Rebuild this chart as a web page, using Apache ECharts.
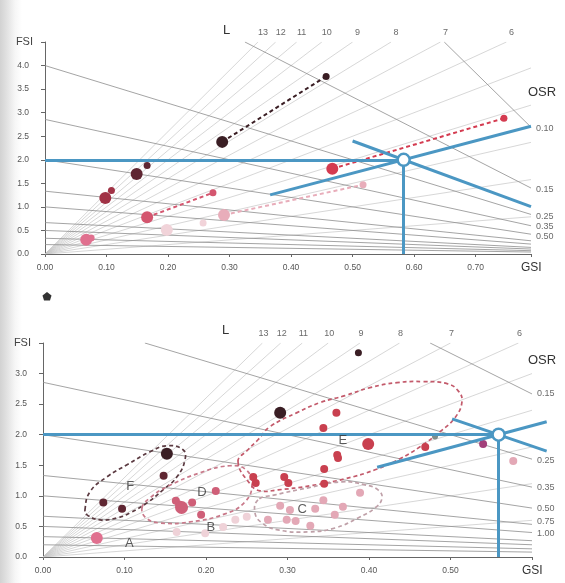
<!DOCTYPE html>
<html><head><meta charset="utf-8">
<script src="https://cdn.jsdelivr.net/npm/echarts@6/dist/echarts.min.js"></script>
<style>
html,body{margin:0;padding:0;width:565px;height:583px;overflow:hidden;
background:linear-gradient(to right,#d2d2d2 0px,#e2e2e2 7px,#f6f6f6 15px,#ffffff 22px);}
#c{width:565px;height:583px;}
</style></head><body><div id="c"></div>
<script>
// ---------- axis extents / ticks ----------
const topX = {max:0.79, interval:0.1};
const topY = {max:4.5, interval:0.5, lastLabel:4.0};
const botX = {max:0.6, interval:0.1};
const botY = {max:3.5, interval:0.5, lastLabel:3.0};

// ---------- isolines ----------
const layerValues = [1,2,3,4,5,6,7,8,9,10,11,12,13];
const layerLabels = [13,12,11,10,9,8,7,6];
const topOsrValues = [0.078,0.15,0.25,0.35,0.50,0.75,1.0,1.5,2,3,5];
const topOsrLabels = ['0.10','0.15','0.25','0.35','0.50'];
const botOsrValues = [0.15,0.25,0.35,0.50,0.75,1.0,1.5,2,3,5];
const botOsrLabels = ['0.15','0.25','0.35','0.50','0.75','1.00'];

// ---------- blue reference (target) ----------
const topTarget = [0.583, 2.0];
const topTargetRay = [0.366, 0.79];
const topTargetOsr = [0.50, 0.79];
const botTarget = [0.559, 2.0];
const botTargetRay = [0.41, 0.618];
const botTargetOsr = [0.502, 0.618];

// ---------- top chart: [start(large), end(small)] ----------
const topDarkest = [[0.288,2.38],[0.457,3.77]];
const topMaroon  = [[0.149,1.70],[0.166,1.88]];
const topMedium  = [[0.098,1.19],[0.108,1.35]];
const topPinkRed = [[0.166,0.78],[0.273,1.30]];
const topRed     = [[0.467,1.81],[0.746,2.88]];
const topPink    = [[0.067,0.30],[0.075,0.34]];
const topLight   = [[0.291,0.83],[0.517,1.47]];
const topPale    = [[0.198,0.51],[0.257,0.66]];

// ---------- bottom chart ----------
const botDarkestLarge = [[0.152,1.69],[0.291,2.36]];
const botDarkestSmall = [[0.387,3.34]];
const botMaroon = [[0.148,1.33],[0.074,0.89],[0.097,0.79]];
const botA = [[0.066,0.31]];
const botDLarge = [[0.170,0.81]];
const botD = [[0.212,1.08],[0.163,0.92],[0.167,0.86],[0.183,0.89],[0.194,0.69]];
const botELarge = [[0.399,1.85]];
const botE = [[0.360,2.36],[0.344,2.11],[0.361,1.67],[0.362,1.62],[0.345,1.44],[0.345,1.20],
              [0.258,1.31],[0.261,1.21],[0.296,1.31],[0.301,1.21],[0.469,1.80]];
const botPurple = [[0.540,1.85]];
const botGrey = [[0.481,1.97]];
const botC = [[0.389,1.05],[0.344,0.93],[0.334,0.79],[0.368,0.82],[0.358,0.69],[0.291,0.84],
              [0.303,0.77],[0.276,0.61],[0.299,0.61],[0.310,0.59],[0.328,0.51],[0.577,1.57]];
const botB = [[0.221,0.49],[0.164,0.41],[0.199,0.39],[0.236,0.61],[0.250,0.66]];

// group outlines (data coords)
const loopF = [[0.0515,0.77],[0.0577,1.066],[0.0785,1.311],[0.1031,1.508],[0.1313,1.721],[0.1521,1.820],
  [0.1718,1.754],[0.1742,1.590],[0.1644,1.311],[0.1472,1.098],[0.1276,0.885],[0.1067,0.721],
  [0.0908,0.639],[0.0699,0.607],[0.0540,0.689]];
const loopD = [[0.1215,0.803],[0.1313,0.967],[0.1521,1.148],[0.1926,1.377],[0.2294,1.492],[0.2491,1.426],
  [0.2564,1.180],[0.2479,0.902],[0.2233,0.705],[0.1804,0.574],[0.1436,0.557],[0.1264,0.639]];
const loopE = [[0.2393,1.557],[0.2515,1.754],[0.2638,1.918],[0.2785,2.131],[0.3117,2.361],[0.3399,2.525],
  [0.3706,2.639],[0.4012,2.770],[0.4344,2.852],[0.4663,2.869],[0.4957,2.836],[0.5092,2.721],
  [0.5141,2.541],[0.5055,2.279],[0.4871,2.049],[0.4626,1.803],[0.4380,1.607],[0.4074,1.426],
  [0.3706,1.279],[0.3276,1.164],[0.2883,1.098],[0.2663,1.082],[0.2540,1.197]];
const loopC = [[0.2638,0.934],[0.2601,0.721],[0.2687,0.557],[0.2883,0.443],[0.3252,0.410],[0.3583,0.475],
  [0.3865,0.639],[0.4074,0.803],[0.4160,0.967],[0.4110,1.098],[0.3951,1.180],[0.3669,1.230],
  [0.3252,1.131],[0.2847,1.016]];

const groupLetters = ['A','B','C','D','E','F'];
const groupLetterAt = [[0.106,0.23],[0.206,0.48],[0.318,0.77],[0.195,1.05],[0.368,1.90],[0.107,1.15]];

// ---------- styles ----------
const BLUE = '#4b97c3';
const FONT = "'Liberation Sans Narrow','Liberation Sans',sans-serif";
const C = {darkest:'#3a1e24', maroon:'#5f2632', medium:'#a13346', pinkRed:'#d4566f', red:'#d43b50',
  pink:'#e0708f', light:'#e8adba', pale:'#f1d3d9', dRed:'#cf5f78', eRed:'#c9404f', purple:'#a2407a',
  grey:'#7f8d8a', cPink:'#e3a8b6', bPale:'#efd2d8'};

// ---------- helpers ----------
function rayLine(L, ax){ const x = Math.min(ax.x.max, ax.y.max / L); return [[0,0],[x, L*x]]; }
function osrLine(o, ax){
  let x0 = 0, y0 = 1/o;
  if (y0 > ax.y.max){ y0 = ax.y.max; x0 = 1 - ax.y.max*o; }
  return [[x0,y0],[ax.x.max,(1-ax.x.max)/o]];
}
const AX = [{x:topX,y:topY},{x:botX,y:botY}];

function isoSeries(gi){
  const ax = AX[gi];
  const osr = gi===0 ? topOsrValues : botOsrValues;
  return [
    {type:'lines', coordinateSystem:'cartesian2d', xAxisIndex:gi, yAxisIndex:gi, silent:true, z:1,
     lineStyle:{color:'#c6c6c6', width:0.7, opacity:1},
     data: layerValues.map(L => ({coords: rayLine(L, ax)}))},
    {type:'lines', coordinateSystem:'cartesian2d', xAxisIndex:gi, yAxisIndex:gi, silent:true, z:1,
     lineStyle:{color:'#8d8d8d', width:0.8, opacity:1},
     data: osr.map(o => ({coords: osrLine(o, ax)}))}
  ];
}
function textSeries(gi){
  const ax = AX[gi];
  const osr = gi===0 ? topOsrValues : botOsrValues;
  const lab = gi===0 ? topOsrLabels : botOsrLabels;
  const nudge = gi===0 ? [1,1,2,1,2] : [0,1,0,0,-3,1];
  const items = [];
  layerLabels.forEach(L => items.push({value:[ax.y.max/L, ax.y.max],
    label:{position:'top', distance:5, offset:[gi===0?5:1, 0], formatter:String(L)}}));
  lab.forEach((t,i) => { const o = osr[i];
    items.push({value:[ax.x.max,(1-ax.x.max)/o],
      label:{position:'right', distance:5, offset:[0,nudge[i]], formatter:t}}); });
  return {type:'scatter', xAxisIndex:gi, yAxisIndex:gi, symbolSize:0, silent:true, z:7,
    label:{show:true, color:'#444', fontSize:9, fontFamily:FONT}, data:items};
}
function loop(pts, color){
  return {type:'custom', xAxisIndex:1, yAxisIndex:1, silent:true, z:3, data:[pts[0]],
    renderItem:function(params, api){
      return {type:'polygon', shape:{points: pts.map(p => api.coord(p)), smooth:0.45},
        style:{fill:'none', stroke:color, lineWidth:1.7, lineDash:[4,3]}};
    }};
}
function pair(data, color, dashed){
  return {type:'line', xAxisIndex:0, yAxisIndex:0, data:data, z:4, silent:true,
    symbol:'circle', symbolSize:(v,p)=> p.dataIndex===0 ? 12 : 7,
    itemStyle:{color:color, opacity:1},
    lineStyle: dashed ? {color:color, width:2, type:[4,3]} : {width:0, opacity:0}};
}
function dots(data, color, size){
  return {type:'scatter', xAxisIndex:1, yAxisIndex:1, data:data, z:4, silent:true,
    symbolSize:size, itemStyle:{color:color, opacity:1}};
}
function target(gi, t, rayR, osrR){
  const L = t[1]/t[0], o = (1-t[0])/t[1];
  return [
    {type:'lines', coordinateSystem:'cartesian2d', xAxisIndex:gi, yAxisIndex:gi, silent:true, z:5, clip:false,
     lineStyle:{color:BLUE, width:3, opacity:1},
     data:[{coords:[[0,t[1]],[t[0],t[1]]]}, {coords:[[t[0],0],[t[0],t[1]]]},
           {coords:[[rayR[0],L*rayR[0]],[rayR[1],L*rayR[1]]]},
           {coords:[[osrR[0],(1-osrR[0])/o],[osrR[1],(1-osrR[1])/o]]}]},
    {type:'scatter', xAxisIndex:gi, yAxisIndex:gi, silent:true, z:6, data:[t], symbolSize:12,
     itemStyle:{color:'#ffffff', borderColor:BLUE, borderWidth:2.5, opacity:1}}
  ];
}

function xAxis(gi, ax){
  return {type:'value', gridIndex:gi, min:0, max:ax.max, interval:ax.interval,
    name:'GSI', nameLocation:'end', nameGap:-10,
    nameTextStyle:{color:'#333', fontSize:12, fontFamily:"'Liberation Sans',sans-serif", align:'left', verticalAlign:'top', padding:[8,0,0,0]},
    axisLine:{lineStyle:{color:'#666', width:1}}, axisTick:{length:3, lineStyle:{color:'#666'}},
    splitLine:{show:false},
    axisLabel:{margin:9, color:'#555', fontSize:8.5, fontFamily:FONT,
      formatter:v => v > ax.max - 0.05 ? '' : v.toFixed(2)}};
}
function yAxis(gi, ax){
  return {type:'value', gridIndex:gi, min:0, max:ax.max, interval:ax.interval,
    name:'FSI', nameLocation:'end', nameGap:0,
    nameTextStyle:{color:'#444', fontSize:11, fontFamily:"'Liberation Sans',sans-serif", align:'right', verticalAlign:'middle', padding:[0,12,0,0]},
    axisLine:{lineStyle:{color:'#666', width:1}}, axisTick:{length:4, lineStyle:{color:'#666'}},
    splitLine:{show:false},
    axisLabel:{margin:16, color:'#555', fontSize:8.5, fontFamily:FONT,
      formatter:v => v > ax.lastLabel + 0.01 ? '' : v.toFixed(1)}};
}

const letterSeries = {type:'scatter', xAxisIndex:1, yAxisIndex:1, symbolSize:0, silent:true, z:6,
  label:{show:true, position:'inside', color:'#333', fontSize:13, fontFamily:"'Liberation Sans',sans-serif",
    formatter:p => groupLetters[p.dataIndex]},
  data: groupLetterAt};

const chart = echarts.init(document.getElementById('c'), null, {renderer:'canvas'});
chart.setOption({
  animation:false,
  grid:[{left:45, top:42, width:486, height:212},
        {left:43, top:343, width:489, height:214}],
  xAxis:[xAxis(0, topX), xAxis(1, botX)],
  yAxis:[yAxis(0, topY), yAxis(1, botY)],
  graphic:[
    {type:'text', left:223, top:24, style:{text:'L', fontSize:13, fill:'#333', fontFamily:"'Liberation Sans',sans-serif"}},
    {type:'text', left:222, top:324, style:{text:'L', fontSize:13, fill:'#333', fontFamily:"'Liberation Sans',sans-serif"}},
    {type:'text', left:528, top:86, style:{text:'OSR', fontSize:13, fill:'#333', fontFamily:"'Liberation Sans',sans-serif"}},
    {type:'text', left:528, top:354, style:{text:'OSR', fontSize:13, fill:'#333', fontFamily:"'Liberation Sans',sans-serif"}},
    {type:'polygon', shape:{points:[[47,292],[51.5,295.5],[50,300.5],[44,300.5],[42.5,295.5]]}, style:{fill:'#333'}}
  ],
  series:[
    ...isoSeries(0), ...isoSeries(1),
    textSeries(0), textSeries(1),
    loop(loopF, '#5b3a41'), loop(loopD, '#c9798a'), loop(loopE, '#c35a6b'), loop(loopC, '#bfa0a8'),
    pair(topPale, C.pale, false), pair(topLight, C.light, true), pair(topPink, C.pink, false),
    pair(topPinkRed, C.pinkRed, true), pair(topRed, C.red, true), pair(topMedium, C.medium, false),
    pair(topMaroon, C.maroon, false), pair(topDarkest, C.darkest, true),
    dots(botB, C.bPale, 8), dots(botC, C.cPink, 8), dots(botA, C.pink, 12),
    dots(botD, C.dRed, 8), dots(botDLarge, C.dRed, 13),
    dots(botE, C.eRed, 8), dots(botELarge, C.eRed, 12),
    dots(botPurple, C.purple, 8), dots(botGrey, C.grey, 6),
    dots(botMaroon, C.maroon, 8), dots(botDarkestLarge, C.darkest, 12), dots(botDarkestSmall, C.darkest, 7),
    letterSeries,
    ...target(0, topTarget, topTargetRay, topTargetOsr),
    ...target(1, botTarget, botTargetRay, botTargetOsr)
  ]
});
</script></body></html>
